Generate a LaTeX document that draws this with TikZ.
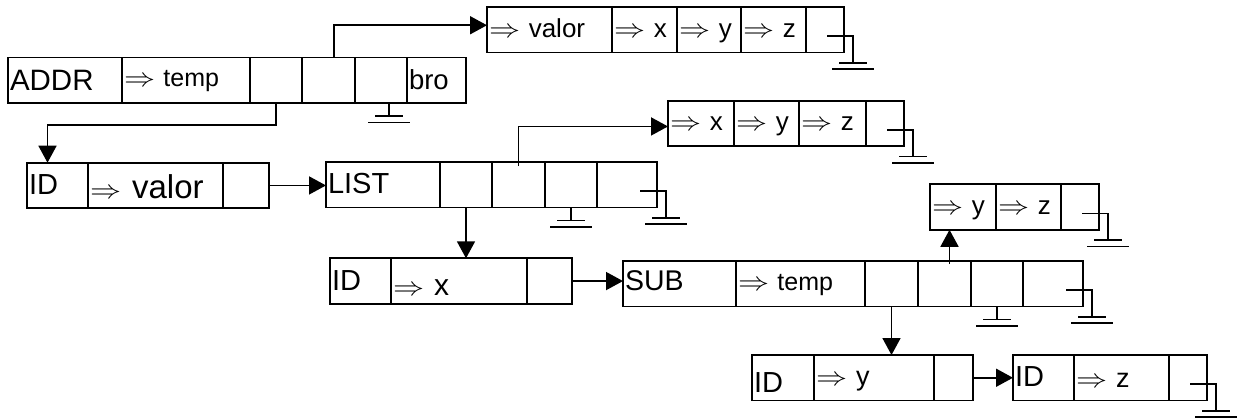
\documentclass[tikz,border=0pt]{standalone}
\usepackage{fontspec}
\setmainfont{Liberation Sans}
\usepackage{graphicx}
\usepackage{tikz}
\usetikzlibrary{
  positioning,
  arrows.meta
}
% Field text: pointer arrow, then a name
\newcommand{\ptrto}[1]{\scalebox{1.25}[1.05]{$\Rightarrow$}\ #1}
\tikzset{
  % Record field
  cell/.style={
    draw,
    outer sep=0pt,
    inner xsep=2pt,
    inner ysep=0pt,
    minimum height=45.5pt,
    anchor=north west,
    align=left,
    text height=16pt,
    text depth=0pt,
    font=\fontsize{26}{28}\selectfont
  },
  % Font size of a field
  fs/.style={font=\fontsize{#1}{#1}\selectfont},
  % Pointer between records
  ptr/.style={
    draw,
    -{Triangle[length=17pt,width=18pt]}
  },
  % Nil pointer, hanging below a field
  pics/nilbelow/.style={code={
    \draw (0,0) -- (0,13);
    \draw (-14,13) -- (14,13);
    \draw (-21,19.5) -- (21,19.5);
  }},
  % Nil pointer, leaving a last field on the right
  pics/nilend/.style={code={
    \draw (-17,6.5) -- (9,6.5) -- (9,33);
    \draw (-5,33) -- (23,33);
    \draw (-12,39.5) -- (30,39.5);
  }}
}
\begin{document}
\begin{tikzpicture}[x=1pt, y=-1pt, line width=1.7pt]
  \useasboundingbox (0,0) rectangle (1239,420);
  % Record valor
  \node[cell, text width=121pt] (v1) at (487,7) {\ptrto{valor}};
  \node[cell, text width=61pt, right=0pt of v1] (v2) {\ptrto{x}};
  \node[cell, text width=60pt, right=0pt of v2] (v3) {\ptrto{y}};
  \node[cell, text width=61pt, right=0pt of v3] (v4) {\ptrto{z}};
  \node[cell, text width=34pt, right=0pt of v4] (v5) {};
  % Record ADDR
  \node[cell, text width=110pt, text height=20pt, fs=29.5] (a1) at (8,57.5) {ADDR};
  \node[cell, text width=124pt, text height=13pt, fs=25, right=0pt of a1] (a2) {\ptrto{temp}};
  \node[cell, text width=48pt, right=0pt of a2] (a3) {};
  \node[cell, text width=49pt, right=0pt of a3] (a4) {};
  \node[cell, text width=48pt, right=0pt of a4] (a5) {};
  \node[cell, text width=55pt, text height=19pt, fs=27.5, right=0pt of a5] (a6) {bro};
  % Record x y z
  \node[cell, text width=62pt, text height=15pt] (x1) at (668,100.7) {\ptrto{x}};
  \node[cell, text width=61pt, text height=15pt, right=0pt of x1] (x2) {\ptrto{y}};
  \node[cell, text width=63pt, text height=15pt, right=0pt of x2] (x3) {\ptrto{z}};
  \node[cell, text width=34pt, right=0pt of x3] (x4) {};
  % Record ID valor
  \node[cell, text width=57pt, text height=18pt, fs=29] (i1) at (27,162.7) {ID};
  \node[cell, text width=131pt, text height=26pt, fs=33, right=0pt of i1] (i2) {\ptrto{valor}};
  \node[cell, text width=42pt, right=0pt of i2] (i3) {};
  % Record LIST
  \node[cell, text width=110pt, text height=18pt, fs=29] (l1) at (326,162) {LIST};
  \node[cell, text width=48pt, right=0pt of l1] (l2) {};
  \node[cell, text width=49pt, right=0pt of l2] (l3) {};
  \node[cell, text width=48pt, right=0pt of l3] (l4) {};
  \node[cell, text width=56pt, right=0pt of l4] (l5) {};
  % Record y z
  \node[cell, text width=62pt, text height=14pt] (y1) at (930,184.3) {\ptrto{y}};
  \node[cell, text width=61pt, text height=14pt, right=0pt of y1] (y2) {\ptrto{z}};
  \node[cell, text width=34pt, right=0pt of y2] (y3) {};
  % Record ID x
  \node[cell, text width=57pt, text height=18pt, fs=29] (j1) at (330,258.3) {ID};
  \node[cell, text width=132pt, text height=28pt, fs=30, right=0pt of j1] (j2) {\ptrto{x}};
  \node[cell, text width=41pt, right=0pt of j2] (j3) {};
  % Record SUB
  \node[cell, text width=109pt, text height=13pt, fs=28.5] (s1) at (623,261) {SUB};
  \node[cell, text width=125pt, text height=14pt, fs=25, right=0pt of s1] (s2) {\ptrto{temp}};
  \node[cell, text width=49pt, right=0pt of s2] (s3) {};
  \node[cell, text width=49pt, right=0pt of s3] (s4) {};
  \node[cell, text width=48pt, right=0pt of s4] (s5) {};
  \node[cell, text width=56pt, right=0pt of s5] (s6) {};
  % Record ID y
  \node[cell, text width=58pt, text height=30pt, fs=29] (k1) at (752,355) {ID};
  \node[cell, text width=116pt, text height=16pt, fs=27, right=0pt of k1] (k2) {\ptrto{y}};
  \node[cell, text width=35pt, right=0pt of k2] (k3) {};
  % Record ID z
  \node[cell, text width=57pt, text height=17pt, fs=29] (m1) at (1013,355) {ID};
  \node[cell, text width=91pt, text height=20pt, fs=27, right=0pt of m1] (m2) {\ptrto{z}};
  \node[cell, text width=34pt, right=0pt of m2] (m3) {};
  % Pointers
  \draw[ptr] ([xshift=5.5pt]a4.north) |- ([yshift=4.5pt]v1.west);
  \draw[ptr] (a3.south) -- ++(0,22) -| ([xshift=-10pt]i1.north);
  \draw[ptr] (i3.east) -- (i3.east -| l1.west);
  \draw[ptr] ([yshift=-4pt]l3.north) |- ([yshift=-3pt]x1.west);
  \draw[ptr] (l2.south) -- (l2.south |- j2.north);
  \draw[ptr] (j3.east) -- (j3.east -| s1.west);
  \draw[ptr] (s3.south) -- (s3.south |- k2.north);
  \draw[ptr] ([xshift=5pt,yshift=-3pt]s4.north) coordinate (sub2) -- (sub2 |- y1.south);
  \draw[ptr] (k3.east) -- (k3.east -| m1.west);
  % Nil pointers
  \pic at ([xshift=8pt]a5.south) {nilbelow};
  \pic at (l4.south) {nilbelow};
  \pic at (s5.south) {nilbelow};
  \pic at (v5.east) {nilend};
  \pic at (x4.east) {nilend};
  \pic at (l5.east) {nilend};
  \pic at (y3.east) {nilend};
  \pic at (s6.east) {nilend};
  \pic at (m3.east) {nilend};
\end{tikzpicture}
\end{document}
